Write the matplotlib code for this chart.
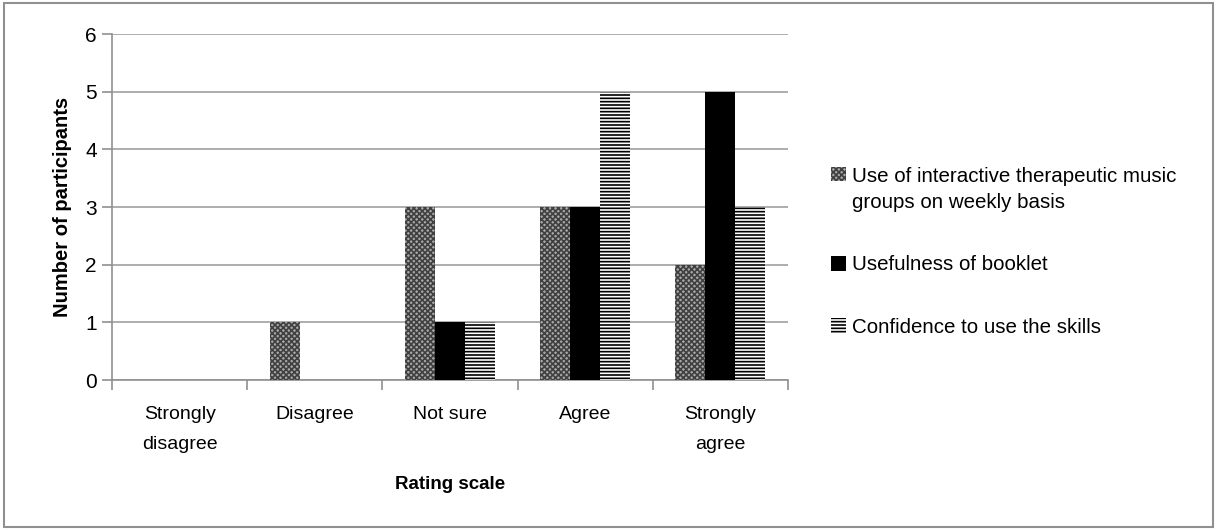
import matplotlib
matplotlib.use("Agg")
import numpy
from matplotlib import pyplot
from matplotlib.patches import Rectangle

categories = ["Strongly\ndisagree", "Disagree", "Not sure", "Agree", "Strongly\nagree"]
series_names = ["Use of interactive therapeutic music\ngroups on weekly basis",
                "Usefulness of booklet",
                "Confidence to use the skills"]
weekly_groups = [0, 1, 3, 3, 2]
booklet = [0, 0, 1, 3, 5]
confidence = [0, 0, 1, 5, 3]

pyplot.rcParams["font.family"] = ["Liberation Sans", "DejaVu Sans"]
pyplot.rcParams["hatch.linewidth"] = 1.2

fig = pyplot.figure(figsize=(12.17, 5.30), dpi=100)
ax = fig.add_axes([0.092, 0.283, 0.5555, 0.6527])

x = numpy.arange(len(categories))
w = 0.222
styles = [
    dict(facecolor="#a8a8a8", hatch="xxxxxx", edgecolor="#404040"),
    dict(facecolor="black", edgecolor="black"),
    dict(facecolor="white", hatch="-----", edgecolor="black"),
]
for i, (vals, st) in enumerate(zip([weekly_groups, booklet, confidence], styles)):
    ax.bar(x + (i - 1) * w, vals, w, label=series_names[i], linewidth=0, zorder=3, **st)

ax.set_xlim(-0.5, len(categories) - 0.5)
ax.set_ylim(0, 6)
ax.set_yticks(range(7))
ax.yaxis.grid(True, color="#a0a0a0", linewidth=1.2, zorder=0)
ax.set_xticks(x)
ax.set_xticklabels(categories, fontsize=14, linespacing=2.0)
ax.tick_params(axis="x", length=0, pad=19)
ax.set_xticks(numpy.arange(-0.5, len(categories)), minor=True)
ax.tick_params(axis="x", which="minor", length=7, color="#909090", width=1.2)
ax.tick_params(axis="y", length=7, color="#909090", width=1.2, labelsize=15, pad=4)
for s in ["top", "right"]:
    ax.spines[s].set_visible(False)
for s in ["left", "bottom"]:
    ax.spines[s].set_color("#909090")
    ax.spines[s].set_linewidth(1.2)

ax.set_ylabel("Number of participants", fontsize=14.5, fontweight="bold", labelpad=9)
ax.set_xlabel("Rating scale", fontsize=13.5, fontweight="bold", labelpad=16)

leg = fig.legend(loc="center left", bbox_to_anchor=(0.668, 0.525), frameon=False,
                 fontsize=14.8, handlelength=0.7, handleheight=0.7,
                 handletextpad=0.3, labelspacing=2.1)
leg.texts[0].set_linespacing(1.5)
# put the first handle on the first text line, as in the original
rows = leg._legend_handle_box.get_children()[0].get_children()
rows[0].align = "top"

fig.patches.append(Rectangle((0.003, 0.006), 0.994, 0.988, transform=fig.transFigure,
                             fill=False, edgecolor="#909090", linewidth=1.5))

fig.savefig("out.png", dpi=100)
